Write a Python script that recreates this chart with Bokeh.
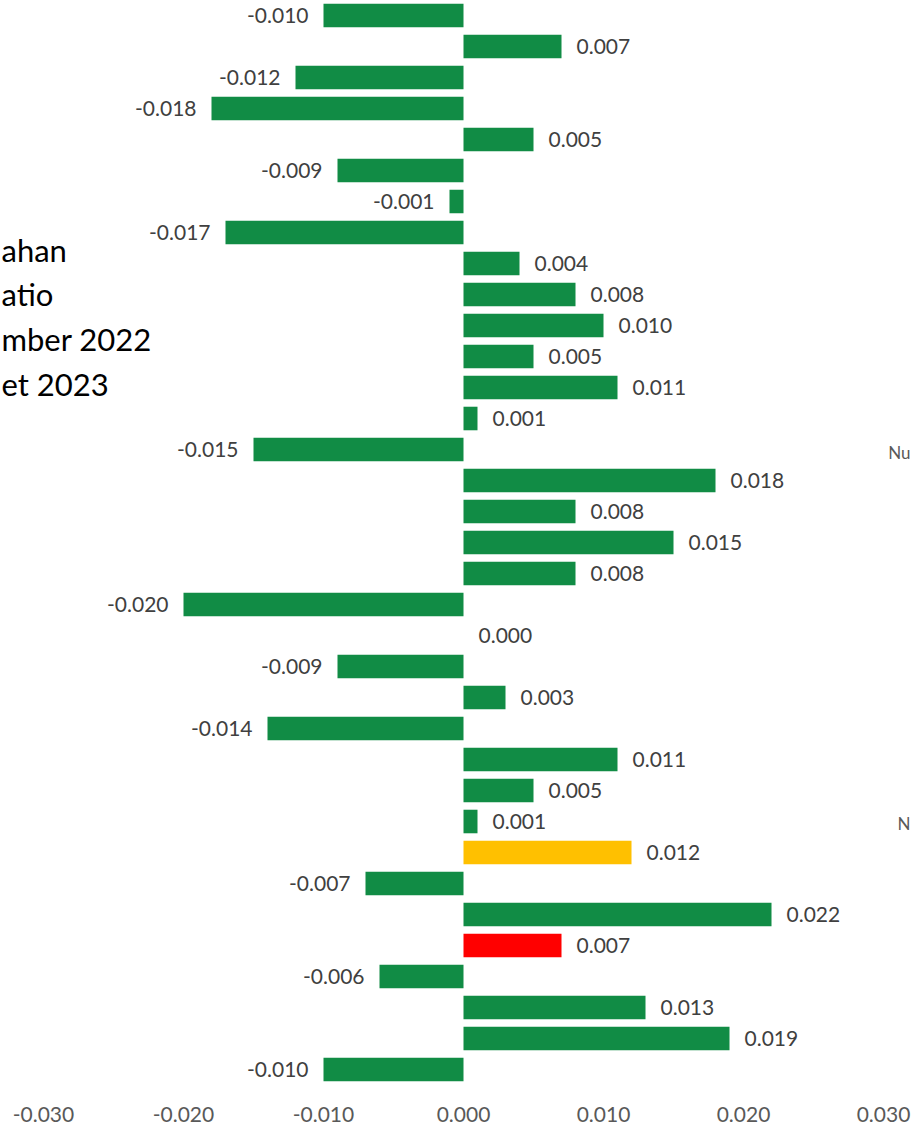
from bokeh.plotting import figure
from bokeh.models import Range1d, FixedTicker, Label, ColumnDataSource
from bokeh.core.properties import value
from bokeh.embed import file_html
from bokeh.resources import INLINE

# ---- data (top to bottom) ----
values = [-0.010, 0.007, -0.012, -0.018, 0.005, -0.009, -0.001, -0.017, 0.004, 0.008,
          0.010, 0.005, 0.011, 0.001, -0.015, 0.018, 0.008, 0.015, 0.008, -0.020,
          0.000, -0.009, 0.003, -0.014, 0.011, 0.005, 0.001, 0.012, -0.007, 0.022,
          0.007, -0.006, 0.013, 0.019, -0.010]
rows = list(range(len(values)))
tick_values = [-0.03, -0.02, -0.01, 0.0, 0.01, 0.02, 0.03]
tick_labels = ["-0.030", "-0.020", "-0.010", "0.000", "0.010", "0.020", "0.030"]
title_fragments = ["ahan", "atio", "mber 2022", "et 2023"]
side_fragments = ["Nu", "N"]

# ---- styles ----
GREEN = "#118C45"
highlight = {27: "#FFC000", 30: "#FF0000"}
colors = [highlight.get(i, GREEN) for i in rows]
FONT = "Lato"

FW, FH = 912, 1094
xppu = 14000.0
x0 = 463.0
x_range = Range1d(-x0 / xppu, (FW - x0) / xppu)
yppu = 31.0
ytop = -15.0 / yppu
ybot = ytop + FH / yppu
y_range = Range1d(start=ybot, end=ytop)

p = figure(frame_width=FW, frame_height=FH, x_range=x_range, y_range=y_range,
           output_backend="svg", toolbar_location=None, y_axis_location=None,
           min_border_left=0, min_border_right=0, min_border_top=0, min_border_bottom=0)
p.outline_line_color = None
p.xgrid.visible = False
p.ygrid.visible = False
p.background_fill_color = "white"
p.border_fill_color = "white"

src = ColumnDataSource(dict(y=rows, v=values, c=colors))
p.hbar(y="y", left=0, right="v", height=0.76, fill_color="c", line_color=None, source=src)

pos = [(r, v) for r, v in zip(rows, values) if v >= 0]
neg = [(r, v) for r, v in zip(rows, values) if v < 0]
p.text(x=[v for _, v in pos], y=[r for r, _ in pos], text=[f"{v:.3f}" for _, v in pos],
       x_offset=15, text_align="left", text_baseline="middle",
       text_font=value(FONT), text_font_size="21px", text_color="#404040")
p.text(x=[v for _, v in neg], y=[r for r, _ in neg], text=[f"{v:.3f}" for _, v in neg],
       x_offset=-15, text_align="right", text_baseline="middle",
       text_font=value(FONT), text_font_size="21px", text_color="#404040")

ax = p.xaxis[0]
ax.ticker = FixedTicker(ticks=tick_values)
ax.major_label_overrides = {t: l for t, l in zip(tick_values, tick_labels)}
ax.axis_line_color = None
ax.major_tick_line_color = None
ax.minor_tick_line_color = None
ax.major_label_standoff = 6
ax.major_label_text_font = FONT
ax.major_label_text_font_size = "21px"
ax.major_label_text_color = "#595959"

for i, t in enumerate(title_fragments):
    p.add_layout(Label(x=1, y=FH - (249 + 44.7 * i), x_units="screen", y_units="screen",
                       text=t, text_font=FONT, text_font_size="31px", text_color="#000000",
                       text_baseline="middle", text_align="left"))

for t, yy in zip(side_fragments, [452, 823]):
    p.add_layout(Label(x=910, y=FH - yy, x_units="screen",
                       y_units="screen", text=t, text_font=FONT, text_font_size="17px",
                       text_color="#595959", text_baseline="middle", text_align="right"))

open("out.html", "w").write(file_html(p, INLINE))
